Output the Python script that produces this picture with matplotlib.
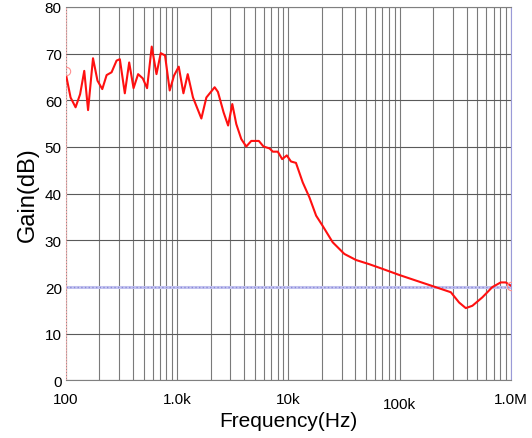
import matplotlib
matplotlib.use("Agg")
import matplotlib.pyplot as plt
import matplotlib.transforms as mtransforms
from matplotlib.ticker import LogLocator, NullFormatter

plt.rcParams['font.family'] = ['Liberation Sans', 'DejaVu Sans']

# measured gain response
freq = [101, 110, 122, 134, 146, 158, 175, 192, 212, 232, 257, 285, 305, 338,
        370, 405, 445, 490, 536, 590, 651, 711, 777, 856, 936, 1032, 1137,
        1243, 1386, 1648, 1828, 2170, 2322, 2612, 2867, 3126, 3396, 3765,
        4174, 4629, 5415, 5967, 6753, 7233, 8017, 8780, 9656, 10530, 11676,
        13440, 15430, 17720, 20300, 24960, 31790, 40480, 53270, 70090, 98960,
        139700, 203900, 287900, 341700, 392500, 449800, 552800, 679700,
        808300, 896800, 1000000]
gain = [65.0, 60.6, 58.5, 61.3, 66.3, 57.9, 69.0, 64.2, 62.4, 65.4, 66.0,
        68.5, 68.8, 61.5, 68.1, 62.6, 65.6, 64.7, 62.6, 71.5, 65.6, 70.1,
        69.6, 62.1, 65.3, 67.2, 61.5, 65.6, 60.6, 56.1, 60.6, 62.8, 61.8,
        57.4, 54.6, 59.2, 54.9, 51.7, 50.1, 51.3, 51.3, 50.1, 49.7, 49.0,
        49.0, 47.4, 48.2, 46.9, 46.6, 42.4, 39.2, 35.3, 33.1, 29.6, 27.1,
        25.8, 24.9, 23.9, 22.6, 21.4, 20.1, 18.9, 16.7, 15.5, 16.0, 17.8,
        20.0, 21.0, 21.0, 20.3]

ref_level = 20
xticks = [100, 1000, 10000, 100000, 1000000]
xtick_labels = ['100', '1.0k', '10k', '100k', '1.0M']
yticks = [0, 10, 20, 30, 40, 50, 60, 70, 80]

fig = plt.figure(figsize=(5.32, 4.39), dpi=100)
ax = fig.add_axes([0.124, 0.131, 0.8365, 0.851])

ax.set_xscale('log')
ax.set_xlim(100, 1e6)
ax.set_ylim(0, 80)

# reference level
ax.axhline(ref_level, color='#c4c4f0', lw=2.2, zorder=2)
ax.axhline(ref_level, color='#8a8ad8', lw=1.0, ls=':', zorder=2)

ax.plot(freq, gain, color='#ff1010', lw=1.5, zorder=3)
ax.plot([freq[0], freq[-1]], [66.3, gain[-1]], 'o', ms=6, mfc='none',
        mec='#ff9090', mew=0.8, zorder=3)

ax.set_xticks(xticks, xtick_labels)
ax.xaxis.set_minor_locator(LogLocator(base=10, subs=range(2, 10)))
ax.xaxis.set_minor_formatter(NullFormatter())
ax.set_yticks(yticks)

ax.grid(True, which='major', axis='y', color='#5a5a5a', lw=0.8)
ax.grid(True, which='both', axis='x', color='#7a7a7a', lw=0.8)
ax.set_axisbelow(True)

ax.tick_params(axis='both', which='both', length=0, labelsize=11, colors='black')
ax.tick_params(axis='x', pad=8)
ax.tick_params(axis='y', pad=3)

# the 100k label sits a little lower
lbl = ax.get_xticklabels()[3]
lbl.set_transform(lbl.get_transform() +
                  mtransforms.ScaledTranslation(0, -4 / 72, fig.dpi_scale_trans))

for side in ['top', 'bottom']:
    ax.spines[side].set_color('#808080')
ax.spines['left'].set_color('#f2b0b0')
ax.spines['left'].set_linestyle(':')
ax.spines['right'].set_color('#9a9ad8')

ax.set_xlabel('Frequency(Hz)', fontsize=15, labelpad=0)
ax.set_ylabel('Gain(dB)', fontsize=17, labelpad=4)

fig.savefig('out.png', dpi=100, facecolor='white')
